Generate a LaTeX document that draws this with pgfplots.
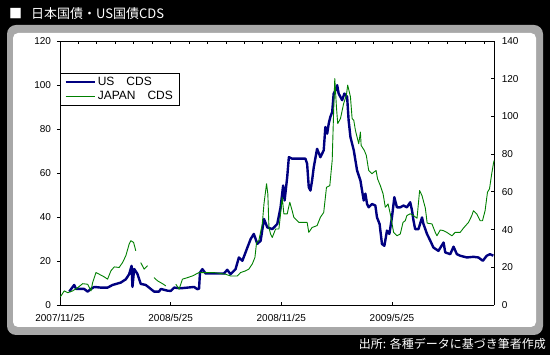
\documentclass[border=0pt]{standalone}
\usepackage{fontspec}
\setmainfont{Liberation Sans}
\newfontfamily\cjk{Noto Sans CJK JP}
\usepackage{pgfplots}
\pgfplotsset{compat=1.18}
\definecolor{usblue}{RGB}{0,0,128}
\definecolor{jpgreen}{RGB}{0,128,0}
\definecolor{framegray}{RGB}{168,168,168}
\begin{document}
\begin{tikzpicture}
\useasboundingbox (0pt,0pt) rectangle (550pt,355pt);
\fill[black] (0pt,0pt) rectangle (550pt,355pt);
\fill[framegray, rounded corners=9pt] (7pt,20pt) rectangle (543pt,330pt);
\fill[white, rounded corners=5pt] (13pt,28pt) rectangle (536pt,322pt);
\node[anchor=west, text=white, inner sep=0pt, font=\cjk\fontsize{13}{15}\selectfont] at (9pt,341pt) {■\hspace{9pt}日本国債・US国債CDS};
\node[anchor=east, text=white, inner sep=0pt, font=\cjk\fontsize{12}{14}\selectfont] at (546pt,11pt) {出所: 各種データに基づき筆者作成};

\begin{axis}[
  at={(60pt,50pt)}, anchor=south west,
  width=434.3pt, height=264pt, scale only axis,
  xmin=0, xmax=23.55, ymin=0, ymax=120,
  axis x line*=bottom, axis y line*=left,
  axis line style={black, line width=0.9pt, -},
  xtick={0,6,12,18},
  xticklabels={2007/11/25,2008/5/25,2008/11/25,2009/5/25},
  ytick={0,20,...,120},
  xtick align=inside, ytick align=outside,
  major tick length=3pt,
  tick style={black, line width=0.8pt},
  ticklabel style={font=\fontsize{10}{12}\selectfont},
  xticklabel style={yshift=-6pt},
  yticklabel style={xshift=-2.5pt},
  /pgf/number format/assume math mode=true,
]
\addplot[usblue, line width=2.4pt, line join=round] coordinates {
(0.50,6.1)(0.77,9.1)(0.87,7.3)(1.31,7.3)(1.50,6.1)(1.68,7.3)(1.86,8.2)(2.22,7.9)(2.58,7.9)(2.85,9.1)(3.30,10.2)(3.57,11.7)(3.75,14.0)(3.88,17.8)(3.93,8.2)(4.02,16.4)(4.20,14.1)(4.38,9.6)(4.65,9.1)(4.83,7.9)(5.10,6.1)(5.37,6.1)(5.47,7.3)(5.83,6.5)(6.01,6.4)(6.19,7.9)(6.55,7.6)(6.91,7.9)(7.27,8.2)(7.45,7.2)(7.54,7.4)(7.59,14.7)(7.72,16.3)(7.90,14.3)(8.35,14.3)(8.89,14.3)(9.07,16.0)(9.25,14.0)(9.52,16.3)(9.70,21.6)(9.89,20.1)(10.16,26.1)(10.34,30.0)(10.51,32.3)(10.70,27.8)(10.88,29.2)(11.06,39.1)(11.24,35.3)(11.51,34.5)(11.78,36.8)(11.96,44.4)(12.10,54.3)(12.18,47.5)(12.32,58.1)(12.41,67.2)(12.59,66.5)(12.86,66.5)(13.31,66.5)(13.40,64.2)(13.49,53.5)(13.58,52.0)(13.67,56.6)(13.76,62.6)(13.94,71.0)(14.12,67.2)(14.30,70.3)(14.39,80.9)(14.49,77.9)(14.57,82.4)(14.66,85.5)(14.76,87.7)(14.84,96.1)(14.94,97.6)(15.03,99.9)(15.11,96.1)(15.30,93.1)(15.42,96.1)(15.57,94.6)(15.65,84.0)(15.75,76.3)(15.93,70.3)(16.02,65.7)(16.11,61.1)(16.29,56.6)(16.38,52.0)(16.47,47.5)(16.56,50.6)(16.65,45.9)(16.74,44.4)(16.92,45.9)(17.10,45.2)(17.19,39.8)(17.33,36.8)(17.46,27.7)(17.59,26.9)(17.73,33.8)(17.86,32.3)(18.00,39.8)(18.13,49.0)(18.27,44.4)(18.45,44.4)(18.63,45.2)(18.81,44.4)(18.99,46.7)(19.09,42.9)(19.17,38.3)(19.26,34.5)(19.44,34.5)(19.63,39.8)(19.71,36.8)(19.90,32.3)(20.08,29.2)(20.25,26.1)(20.52,24.6)(20.80,28.4)(20.89,23.9)(21.16,23.1)(21.34,26.5)(21.52,23.1)(21.70,22.4)(22.06,21.6)(22.42,21.9)(22.69,21.6)(22.93,20.1)(23.14,22.4)(23.32,23.1)(23.50,22.4)
};
\end{axis}

\begin{axis}[
  at={(60pt,50pt)}, anchor=south west,
  width=434.3pt, height=264pt, scale only axis,
  xmin=0, xmax=23.55, ymin=0, ymax=140,
  axis x line*=top, axis y line*=right,
  axis line style={black, line width=0.9pt, -},
  xtick={1,...,23}, xticklabels={},
  ytick={0,20,...,140},
  tick align=inside,
  major tick length=3pt,
  tick style={black, line width=0.8pt},
  ticklabel style={font=\fontsize{10}{12}\selectfont},
  yticklabel style={xshift=4pt},
  /pgf/number format/assume math mode=true,
  unbounded coords=jump,
  legend style={at={(0,0.879)}, anchor=north west, draw=black, line width=0.8pt, fill=white,
    font=\fontsize{12}{14}\selectfont, inner xsep=4pt, inner ysep=2pt, row sep=0pt,
    cells={anchor=west}},
  legend image code/.code={\draw[#1] (0pt,0pt) -- (29pt,0pt);},
]
\addlegendimage{usblue, line width=2.4pt}
\addlegendentry{US\hspace{12pt}CDS}
\addplot[jpgreen, line width=0.9pt, line join=round] coordinates {
(0.02,4.3)(0.23,7.5)(0.42,6.5)(0.69,7.5)(0.96,9.2)(1.23,11.3)(1.50,11.0)(1.68,7.5)(1.77,11.9)(1.95,17.2)(2.13,16.3)(2.40,14.9)(2.58,13.7)(2.76,18.1)(2.94,20.2)(3.21,19.9)(3.39,22.5)(3.57,26.1)(3.75,32.3)(3.84,34.1)(3.99,33.2)(4.11,28.7)(4.25,nan)(4.38,22.5)(4.56,19.0)(4.75,20.8)(4.9,nan)(5.10,14.5)(5.29,12.8)(5.56,11.3)(5.74,10.1)(6.0,nan)(6.28,11.0)(6.46,8.4)(6.64,13.7)(6.91,14.5)(7.18,15.4)(7.54,17.2)(7.81,17.2)(8.35,17.2)(8.98,16.3)(9.25,15.4)(9.62,15.4)(9.79,17.2)(10.06,18.1)(10.24,19.0)(10.43,21.8)(10.57,25.2)(10.66,33.2)(10.78,34.1)(10.97,43.0)(11.06,53.6)(11.20,64.3)(11.27,58.9)(11.33,41.1)(11.42,37.6)(11.51,35.8)(11.69,40.3)(11.87,40.3)(11.96,48.3)(12.05,57.1)(12.14,48.3)(12.32,48.3)(12.46,54.5)(12.59,50.0)(12.68,46.5)(12.95,43.8)(13.40,43.8)(13.49,38.5)(13.67,41.1)(13.94,42.1)(14.12,46.5)(14.30,49.1)(14.45,62.4)(14.63,63.3)(14.76,76.7)(14.84,103.3)(14.90,120.1)(14.99,105.0)(15.06,96.2)(15.21,98.9)(15.38,106.8)(15.53,111.3)(15.60,116.6)(15.75,110.4)(15.84,98.9)(15.93,97.9)(16.02,92.6)(16.20,85.5)(16.29,91.7)(16.33,84.6)(16.50,82.0)(16.61,79.3)(16.74,71.3)(16.92,69.6)(17.01,70.4)(17.14,71.3)(17.22,66.9)(17.37,63.3)(17.52,58.9)(17.64,51.8)(17.79,53.6)(17.91,48.3)(18.09,38.5)(18.27,36.7)(18.45,37.6)(18.60,43.8)(18.72,44.7)(18.81,47.4)(18.99,48.4)(19.17,47.4)(19.36,46.0)(19.50,60.7)(19.63,58.0)(19.81,51.4)(19.91,43.4)(20.17,43.0)(20.35,38.5)(20.44,36.7)(20.62,39.8)(20.80,39.4)(20.98,38.5)(21.25,36.7)(21.43,38.5)(21.70,38.5)(21.88,40.8)(22.15,43.8)(22.33,47.4)(22.42,50.0)(22.60,48.3)(22.78,44.7)(22.91,44.7)(23.05,50.0)(23.18,59.8)(23.29,61.6)(23.41,69.6)(23.50,74.9)(23.54,76.6)
};
\addlegendentry{JAPAN\hspace{12pt}CDS}
\end{axis}
\end{tikzpicture}
\end{document}
